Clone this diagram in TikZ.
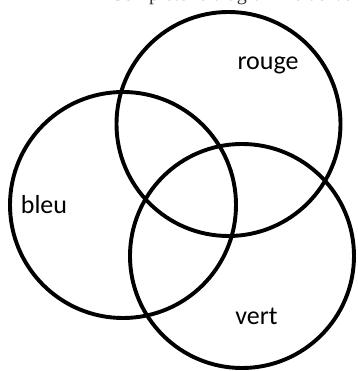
\documentclass[tikz,border=0pt]{standalone}
\usepackage{fontspec}
\setmainfont{Liberation Serif}
\newfontfamily\labelfont{Carlito}
\begin{document}
\begin{tikzpicture}[x=1pt,y=-1pt,
  ring/.style={draw=black,line width=3.9pt},
  setlabel/.style={font=\labelfont\fontsize{26}{30}\selectfont,inner sep=0pt}]
\useasboundingbox (0,0) rectangle (357,371);
\clip (0,0) rectangle (357,371);
\node[anchor=base west,inner sep=0pt,font=\fontsize{20}{24}\selectfont,text=black!80] (title) at (110,0.8) {Complète le diagramme de Venn};
\node[circle,ring,minimum size=224pt,inner sep=0pt] (rouge) at (228.5,124) {};
\node[circle,ring,minimum size=226pt,inner sep=0pt] (bleu) at (123,205) {};
\node[circle,ring,minimum size=224pt,inner sep=0pt] (vert) at (242,256) {};
\node[setlabel] (lr) at (268,65) {rouge};
\node[setlabel] (lb) at (44,205) {bleu};
\node[setlabel] (lv) at (256.5,316) {vert};
\end{tikzpicture}
\end{document}
